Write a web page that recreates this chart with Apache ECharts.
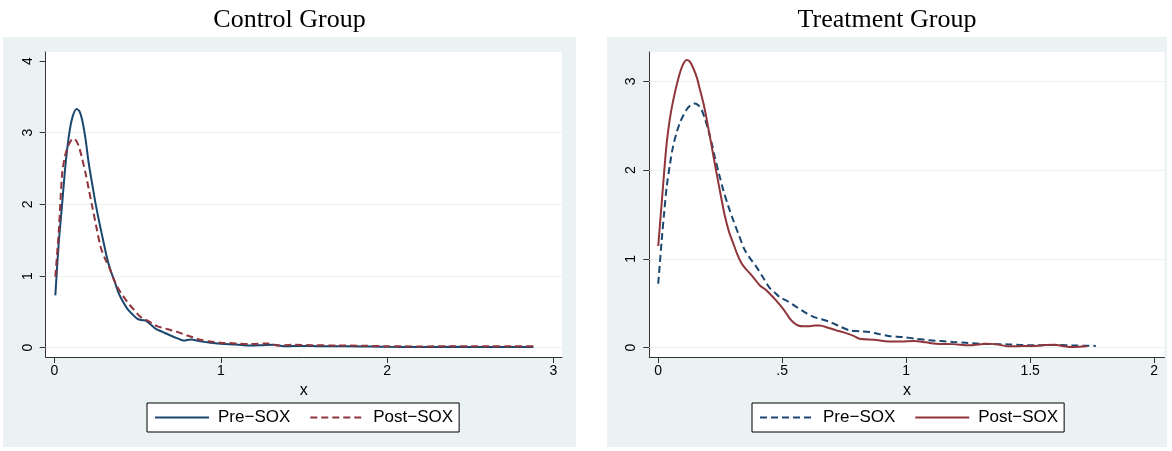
<!DOCTYPE html>
<html>
<head>
<meta charset="utf-8">
<script src="https://cdn.jsdelivr.net/npm/echarts@6/dist/echarts.min.js"></script>
<style>
html,body{margin:0;padding:0;background:#fff;}
#chart{width:1172px;height:451px;}
</style>
</head>
<body>
<div id="chart"></div>
<script>
// ---- data ----
const panelTitles = ['Control Group', 'Treatment Group'];
const legendLabels = { ctrlPre: 'Pre\u2212SOX', ctrlPost: 'Post\u2212SOX', trtPre: 'Pre\u2212SOX', trtPost: 'Post\u2212SOX' };
const xAxisTitle = 'x';

const ctrlXTicks = [0, 1, 2, 3];
const ctrlYTicks = [0, 1, 2, 3, 4];
const ctrlGridY = [0, 1, 2, 3];
const trtXTicks = [0, 0.5, 1, 1.5, 2];
const trtYTicks = [0, 1, 2, 3];
const trtGridY = [0, 1, 2, 3];

const ctrlPre = [[0.005,0.73],[0.025,1.45],[0.046,2.01],[0.066,2.55],[0.086,2.95],[0.106,3.2],[0.132,3.33],[0.15,3.3],[0.166,3.18],[0.186,2.92],[0.206,2.57],[0.227,2.28],[0.247,2.01],[0.272,1.72],[0.297,1.45],[0.317,1.24],[0.337,1.08],[0.362,0.92],[0.387,0.755],[0.412,0.64],[0.437,0.545],[0.467,0.47],[0.497,0.405],[0.52,0.385],[0.547,0.38],[0.575,0.33],[0.607,0.265],[0.65,0.22],[0.698,0.17],[0.74,0.13],[0.778,0.10],[0.818,0.115],[0.878,0.088],[0.94,0.07],[1.0,0.055],[1.09,0.045],[1.18,0.03],[1.25,0.035],[1.32,0.04],[1.38,0.02],[1.5,0.025],[1.6,0.02],[1.75,0.02],[1.9,0.015],[2.0,0.012],[2.2,0.01],[2.4,0.012],[2.6,0.01],[2.75,0.01],[2.88,0.01]];
const ctrlPost = [[0.005,0.99],[0.026,1.64],[0.046,2.43],[0.061,2.65],[0.076,2.78],[0.094,2.87],[0.112,2.92],[0.13,2.89],[0.146,2.81],[0.165,2.65],[0.187,2.43],[0.207,2.2],[0.227,1.97],[0.252,1.68],[0.277,1.41],[0.302,1.25],[0.327,1.13],[0.352,0.98],[0.377,0.85],[0.407,0.74],[0.437,0.64],[0.477,0.53],[0.517,0.43],[0.557,0.38],[0.587,0.34],[0.617,0.30],[0.677,0.26],[0.738,0.22],[0.798,0.17],[0.838,0.14],[0.878,0.11],[0.94,0.085],[1.0,0.07],[1.09,0.06],[1.18,0.05],[1.28,0.06],[1.34,0.03],[1.44,0.04],[1.55,0.035],[1.7,0.03],[1.85,0.028],[2.0,0.02],[2.2,0.018],[2.4,0.02],[2.6,0.02],[2.75,0.02],[2.88,0.02]];
const trtPre = [[0,0.72],[0.014,1.21],[0.024,1.52],[0.034,1.81],[0.047,2.06],[0.06,2.27],[0.073,2.41],[0.087,2.53],[0.1,2.61],[0.114,2.68],[0.13,2.73],[0.148,2.75],[0.162,2.73],[0.175,2.68],[0.188,2.58],[0.201,2.46],[0.215,2.31],[0.228,2.15],[0.245,1.96],[0.262,1.78],[0.282,1.6],[0.302,1.44],[0.325,1.27],[0.349,1.10],[0.372,1.0],[0.396,0.91],[0.423,0.79],[0.45,0.67],[0.47,0.62],[0.49,0.57],[0.523,0.52],[0.557,0.46],[0.59,0.40],[0.624,0.35],[0.658,0.32],[0.692,0.29],[0.732,0.24],[0.772,0.195],[0.812,0.185],[0.852,0.176],[0.89,0.155],[0.933,0.13],[0.987,0.12],[1.04,0.1],[1.094,0.083],[1.14,0.075],[1.19,0.064],[1.24,0.055],[1.296,0.045],[1.35,0.04],[1.416,0.037],[1.47,0.03],[1.524,0.026],[1.57,0.03],[1.618,0.03],[1.67,0.025],[1.725,0.022],[1.765,0.02]];
const trtPost = [[0,1.145],[0.014,1.63],[0.024,1.98],[0.034,2.30],[0.047,2.58],[0.06,2.78],[0.08,3.02],[0.097,3.17],[0.114,3.24],[0.128,3.22],[0.141,3.15],[0.155,3.05],[0.168,2.91],[0.185,2.72],[0.201,2.49],[0.218,2.23],[0.235,1.97],[0.252,1.72],[0.269,1.48],[0.285,1.31],[0.302,1.18],[0.319,1.05],[0.336,0.95],[0.352,0.89],[0.369,0.84],[0.39,0.77],[0.41,0.70],[0.43,0.66],[0.449,0.61],[0.476,0.53],[0.503,0.44],[0.517,0.385],[0.53,0.33],[0.547,0.28],[0.564,0.25],[0.584,0.24],[0.604,0.24],[0.63,0.25],[0.651,0.25],[0.685,0.225],[0.718,0.195],[0.745,0.175],[0.772,0.15],[0.79,0.13],[0.812,0.10],[0.87,0.09],[0.933,0.07],[0.98,0.07],[1.03,0.075],[1.08,0.06],[1.12,0.045],[1.19,0.04],[1.255,0.026],[1.29,0.035],[1.32,0.045],[1.36,0.04],[1.416,0.015],[1.47,0.018],[1.52,0.02],[1.56,0.03],[1.6,0.034],[1.63,0.02],[1.66,0.007],[1.7,0.01],[1.73,0.015]];

// ---- style ----
const NAVY = '#1a476f';
const MAROON = '#90353b';
const BG = '#eaf2f3';
const AXIS = '#333';
const SANS = 'Liberation Sans';
const SERIF = 'Liberation Serif';
const DASH = [7, 4];

function fmtTick(v) { return String(v).replace(/^0\./, '.'); }

function xAxisOf(gridIndex, min, max, ticks) {
  return {
    type: 'value', gridIndex, min, max,
    name: xAxisTitle, nameLocation: 'middle', nameGap: 23,
    nameTextStyle: { fontFamily: SANS, fontSize: 16, color: '#000' },
    axisLine: { show: true, onZero: false, lineStyle: { color: AXIS, width: 1 } },
    axisTick: { show: true, length: 6, customValues: ticks, lineStyle: { color: AXIS } },
    axisLabel: { customValues: ticks, formatter: fmtTick, margin: 7, fontFamily: SANS, fontSize: 14, color: '#000' },
    splitLine: { show: false }
  };
}
function yAxisOf(gridIndex, min, max, ticks) {
  return {
    type: 'value', gridIndex, min, max,
    axisLine: { show: true, onZero: false, lineStyle: { color: AXIS, width: 1 } },
    axisTick: { show: true, length: 6, customValues: ticks, lineStyle: { color: AXIS } },
    axisLabel: { customValues: ticks, formatter: fmtTick, rotate: 90, margin: 11, fontFamily: SANS, fontSize: 14, color: '#000' },
    splitLine: { show: false }
  };
}
function gridLines(idx, vals) {
  return {
    type: 'line', xAxisIndex: idx, yAxisIndex: idx, data: [], silent: true, z: 1,
    markLine: {
      silent: true, symbol: 'none', label: { show: false },
      lineStyle: { color: BG, width: 1, type: 'solid' },
      data: vals.map(v => ({ yAxis: v }))
    }
  };
}
function curve(name, idx, data, color, type) {
  return {
    name, type: 'line', xAxisIndex: idx, yAxisIndex: idx, data,
    showSymbol: false, symbol: 'none', smooth: 0.3, z: 10,
    lineStyle: { color, width: 2, type },
    itemStyle: { color },
    emphasis: { disabled: true }
  };
}
function legendOf(left, names) {
  return {
    data: names, left, top: 403, orient: 'horizontal',
    itemWidth: 54, itemHeight: 14, itemGap: 19,
    padding: [6, 6, 6, 7],
    backgroundColor: '#fff', borderColor: '#000', borderWidth: 1, borderRadius: 0,
    formatter: n => legendLabels[n],
    itemStyle: { opacity: 0 },
    textStyle: { fontFamily: SANS, fontSize: 17, color: '#000', padding: [0, 0, 0, 4] },
    selectedMode: false
  };
}

const chart = echarts.init(document.getElementById('chart'), null, { renderer: 'canvas' });
chart.setOption({
  animation: false,
  backgroundColor: '#fff',
  graphic: [
    { type: 'rect', shape: { x: 3, y: 37, width: 573, height: 410 }, style: { fill: BG }, z: -10, silent: true },
    { type: 'rect', shape: { x: 607, y: 37, width: 560, height: 410 }, style: { fill: BG }, z: -10, silent: true }
  ],
  title: [
    { text: panelTitles[0], left: 289.5, top: 7, padding: 0, textAlign: 'center', textStyle: { fontFamily: SERIF, fontSize: 26, fontWeight: 'normal', color: '#000' } },
    { text: panelTitles[1], left: 887, top: 7, padding: 0, textAlign: 'center', textStyle: { fontFamily: SERIF, fontSize: 26, fontWeight: 'normal', color: '#000' } }
  ],
  grid: [
    { left: 45.7, top: 52, width: 516.3, height: 305, show: true, backgroundColor: '#fff', borderWidth: 0, containLabel: false },
    { left: 649.3, top: 52, width: 515.2, height: 305, show: true, backgroundColor: '#fff', borderWidth: 0, containLabel: false }
  ],
  xAxis: [ xAxisOf(0, -0.053, 3.052, ctrlXTicks), xAxisOf(1, -0.036, 2.042, trtXTicks) ],
  yAxis: [ yAxisOf(0, -0.13, 4.126, ctrlYTicks), yAxisOf(1, -0.105, 3.33, trtYTicks) ],
  legend: [ legendOf(147, ['ctrlPre', 'ctrlPost']), legendOf(752, ['trtPre', 'trtPost']) ],
  series: [
    gridLines(0, ctrlGridY),
    gridLines(1, trtGridY),
    curve('ctrlPre', 0, ctrlPre, NAVY, 'solid'),
    curve('ctrlPost', 0, ctrlPost, MAROON, DASH),
    curve('trtPre', 1, trtPre, NAVY, DASH),
    curve('trtPost', 1, trtPost, MAROON, 'solid')
  ]
});
</script>
</body>
</html>
